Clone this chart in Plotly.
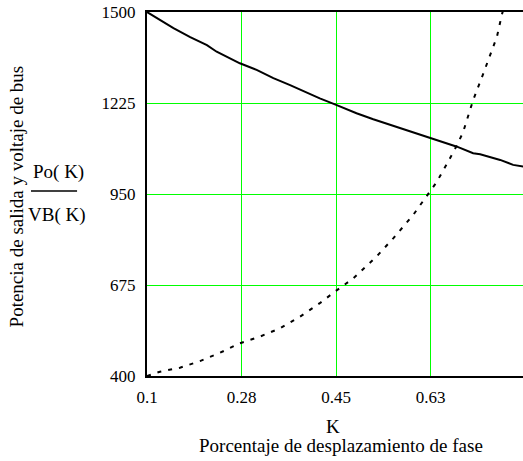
import plotly.graph_objects as go

# Output power Po(K) versus phase-shift fraction K
k_po = [0.100, 0.124, 0.149, 0.180, 0.211, 0.229, 0.272, 0.303, 0.334, 0.365,
        0.396, 0.420, 0.448, 0.488, 0.519, 0.581, 0.624, 0.674, 0.704, 0.717,
        0.754, 0.778, 0.800]
po = [1500, 1476, 1451, 1424, 1400, 1380, 1345, 1325, 1300, 1279,
      1256, 1239, 1221, 1194, 1176, 1143, 1120, 1093, 1073, 1070,
      1053, 1038, 1032]

# Bus voltage VB(K) versus phase-shift fraction K
k_vb = [0.100, 0.124, 0.161, 0.198, 0.235, 0.272, 0.309, 0.346, 0.383, 0.420,
        0.448, 0.482, 0.525, 0.556, 0.593, 0.618, 0.636, 0.655, 0.670, 0.685,
        0.704, 0.723, 0.735, 0.748, 0.757, 0.762]
vb = [400, 413, 425, 445, 470, 499, 519, 544, 579, 620,
      655, 695, 761, 816, 887, 942, 985, 1040, 1085, 1135,
      1234, 1315, 1365, 1425, 1491, 1520]

x_ticks = [0.1, 0.275, 0.45, 0.625]
x_labels = ["0.1", "0.28", "0.45", "0.63"]
y_ticks = [400, 675, 950, 1225, 1500]
y_labels = ["400", "675", "950", "1225", "1500"]

SERIF = "Liberation Serif"
GRID = "rgb(0,255,0)"
tick_font = dict(family=SERIF, size=17, color="black")
title_font = dict(family=SERIF, size=19, color="black")

fig = go.Figure()
fig.add_trace(go.Scatter(x=k_po, y=po, mode="lines",
                         line=dict(color="black", width=2), showlegend=False))
fig.add_trace(go.Scatter(x=k_vb, y=vb, mode="lines",
                         line=dict(color="black", width=2, dash="4px,7px"),
                         showlegend=False))

fig.update_layout(
    width=523, height=461,
    margin=dict(l=147, r=0, t=12, b=85),
    paper_bgcolor="white", plot_bgcolor="white",
    font=dict(family=SERIF, size=17, color="black"),
    xaxis=dict(range=[0.1, 0.1 + 376 / 540], tickvals=x_ticks, ticktext=x_labels,
               showgrid=True, gridcolor=GRID, gridwidth=1, zeroline=False,
               showline=True, linecolor="black", linewidth=2, mirror=True,
               ticks="", ticklabelstandoff=5, tickfont=tick_font),
    yaxis=dict(range=[400, 1500], tickvals=y_ticks, ticktext=y_labels,
               showgrid=True, gridcolor=GRID, gridwidth=1, zeroline=False,
               showline=True, linecolor="black", linewidth=2, mirror=False,
               ticks="", ticklabelstandoff=6, tickfont=tick_font),
)

# x-axis title (variable name and description)
fig.add_annotation(text="K", xref="paper", yref="paper", x=0.495, y=-0.140,
                   xanchor="center", yanchor="middle", showarrow=False, font=title_font)
fig.add_annotation(text="Porcentaje de desplazamiento de fase", xref="paper", yref="paper",
                   x=0.516, y=-0.190, xanchor="center", yanchor="middle",
                   showarrow=False, font=title_font)

# y-axis title: description plus Po(K) / VB(K) expression
fig.add_annotation(text="Potencia de salida y voltaje de bus", xref="paper", yref="paper",
                   x=-0.347, y=0.492, textangle=-90, xanchor="center", yanchor="middle",
                   showarrow=False, font=title_font)
fig.add_annotation(text="Po( K)", xref="paper", yref="paper", x=-0.2367, y=0.5604,
                   xanchor="center", yanchor="middle", showarrow=False, font=title_font)
fig.add_annotation(text="VB( K)", xref="paper", yref="paper", x=-0.2394, y=0.4423,
                   xanchor="center", yanchor="middle", showarrow=False, font=title_font)
fig.add_shape(type="line", xref="paper", yref="paper", x0=-0.3085, x1=-0.186,
              y0=0.5082, y1=0.5082, line=dict(color="black", width=1.5))

fig.write_html("out.html")
